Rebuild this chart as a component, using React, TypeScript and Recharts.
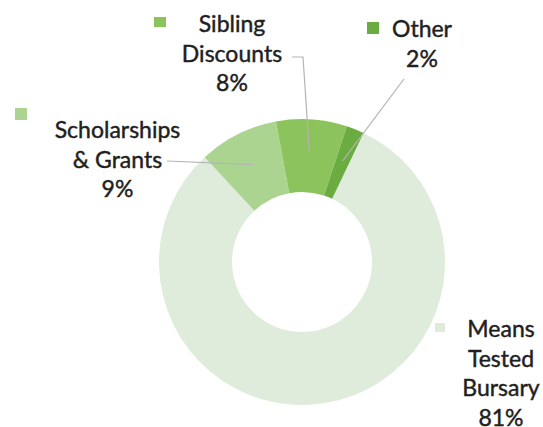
import React from "react";
import { PieChart, Pie, Cell } from "recharts";

// ---- data ----
const categories = ["Means Tested Bursary", "Scholarships & Grants", "Sibling Discounts", "Other"];
const categoryLines = [["Means", "Tested", "Bursary"], ["Scholarships", "& Grants"], ["Sibling", "Discounts"], ["Other"]];
const shares = [81, 9, 8, 2];

// ---- styles / layout ----
const colors = ["#dfecdb", "#acd491", "#8cc35c", "#6aac3f"];
const CX = 302;
const CY = 262;
const INNER = 70;
const OUTER = 143;
const LINE_H = 29.5;
const FONT = "Lato, 'Noto Sans', sans-serif";
const FONT_SIZE = 23;
// label layout relative to the pie centre: text centre x, first baseline y, legend square, leader start (or null)
const labelLayout = [
  { tx: 199, ty: 75, sq: [133, 61, 10, 9], lead: null as null | number[][] },
  { tx: -184.5, ty: -124, sq: [-287, -154, 12, 12], lead: [[-135, -101]] },
  { tx: -70, ty: -230, sq: [-148, -245, 12, 10], lead: [[-10, -205], [1, -205]] },
  { tx: 120, ty: -225, sq: [65, -240, 12, 12], lead: [[102, -183]] },
];
const LEAD_R = 109;
const RAD = Math.PI / 180;

const data = categories.map((name, i) => ({ name, value: shares[i] }));
const total = shares.reduce((a, b) => a + b, 0);

const renderLabel = (props: any) => {
  const { index, midAngle } = props;
  const lay = labelLayout[index];
  const lines = [...categoryLines[index], `${Math.round((shares[index] / total) * 100)}%`];
  const ex = CX + LEAD_R * Math.cos(-midAngle * RAD);
  const ey = CY + LEAD_R * Math.sin(-midAngle * RAD);
  const pts = lay.lead ? [...lay.lead.map(([x, y]) => [CX + x, CY + y]), [ex, ey]] : null;
  return (
    <g key={`lab-${index}`}>
      {pts && (
        <polyline
          points={pts.map((p) => p.join(",")).join(" ")}
          fill="none"
          stroke="#b4b4b4"
          strokeWidth={1.2}
        />
      )}
      <rect x={CX + lay.sq[0]} y={CY + lay.sq[1]} width={lay.sq[2]} height={lay.sq[3]} fill={colors[index]} />
      <text
        x={CX + lay.tx}
        y={CY + lay.ty}
        textAnchor="middle"
        fill="#1f1f1f"
        stroke="#1f1f1f"
        strokeWidth={0.45}
        fontFamily={FONT}
        fontSize={FONT_SIZE}
      >
        {lines.map((l, k) => (
          <tspan key={k} x={CX + lay.tx} y={CY + lay.ty + k * LINE_H}>
            {l}
          </tspan>
        ))}
      </text>
    </g>
  );
};

export default function App() {
  return (
    <div style={{ position: "absolute", left: 0, top: 0, width: 543, height: 427, background: "#fff" }}>
      <PieChart width={543} height={427} margin={{ top: 0, right: 0, bottom: 0, left: 0 }}>
        <Pie
          data={data}
          dataKey="value"
          nameKey="name"
          cx={CX}
          cy={CY}
          innerRadius={INNER}
          outerRadius={OUTER}
          startAngle={64.5}
          endAngle={-295.5}
          stroke="none"
          isAnimationActive={false}
          label={renderLabel}
          labelLine={false}
        >
          {data.map((d, i) => (
            <Cell key={d.name} fill={colors[i]} />
          ))}
        </Pie>
      </PieChart>
    </div>
  );
}
